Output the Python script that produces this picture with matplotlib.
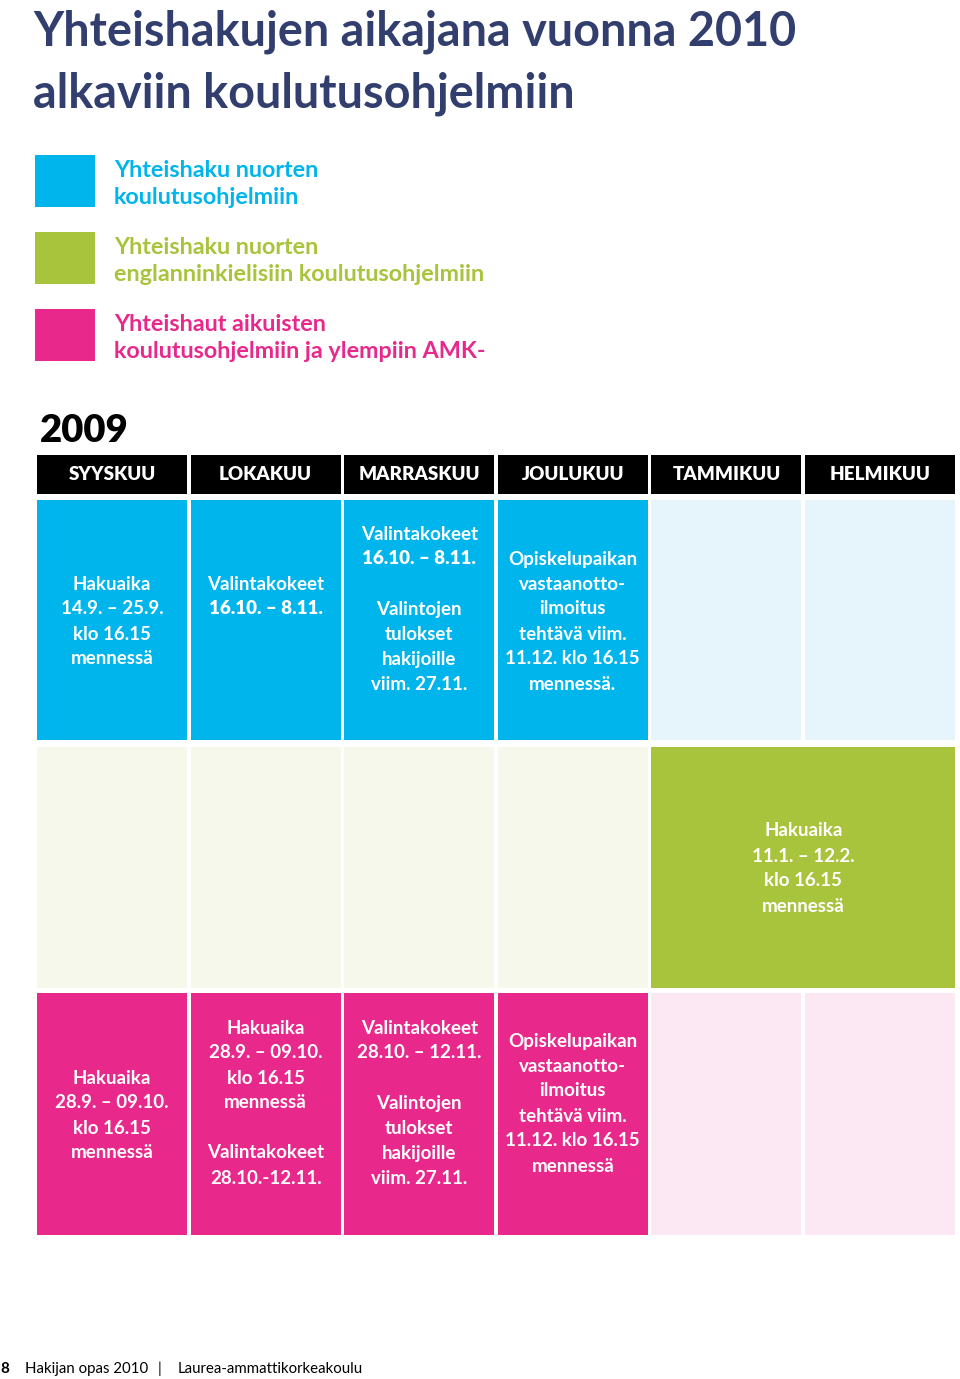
import matplotlib
matplotlib.use("Agg")
import matplotlib.pyplot as plt
from matplotlib.patches import Rectangle

plt.rcParams['font.family'] = ['Lato', 'DejaVu Sans']

# colours
NAVY = '#323f6e'
BLUE = '#00b5ec'
BLUE_L = '#e6f4fc'
GREEN = '#a8c33c'
GREEN_L = '#f5f8ea'
PINK = '#e8298b'
PINK_L = '#fce8f2'

title_lines = ['Yhteishakujen aikajana vuonna 2010', 'alkaviin koulutusohjelmiin']
legend_labels = [
    ['Yhteishaku nuorten', 'koulutusohjelmiin'],
    ['Yhteishaku nuorten', 'englanninkielisiin koulutusohjelmiin'],
    ['Yhteishaut aikuisten', 'koulutusohjelmiin ja ylempiin AMK-'],
]
legend_colors = [BLUE, GREEN, PINK]
year = '2009'
months = ['SYYSKUU', 'LOKAKUU', 'MARRASKUU', 'JOULUKUU', 'TAMMIKUU', 'HELMIKUU']

# each row: list of (first column, span, active?, lines); line = (text, heavy?)
blue_cells = [
    (0, 1, True, [('Hakuaika', 0), ('14.9. – 25.9.', 0), ('klo 16.15', 0), ('mennessä', 0)]),
    (1, 1, True, [('Valintakokeet', 0), ('16.10. – 8.11.', 1)]),
    (2, 1, True, [('Valintakokeet', 0), ('16.10. – 8.11.', 1), ('', 0), ('Valintojen', 0),
                  ('tulokset', 0), ('hakijoille', 0), ('viim. 27.11.', 0)]),
    (3, 1, True, [('Opiskelupaikan', 0), ('vastaanotto-', 0), ('ilmoitus', 0),
                  ('tehtävä viim.', 0), ('11.12. klo 16.15', 0), ('mennessä.', 0)]),
    (4, 1, False, []),
    (5, 1, False, []),
]
blue_first_line = [584, 584, 534, 559, 0, 0]

green_cells = [
    (0, 1, False, []),
    (1, 1, False, []),
    (2, 1, False, []),
    (3, 1, False, []),
    (4, 2, True, [('Hakuaika', 0), ('11.1. – 12.2.', 0), ('klo 16.15', 0), ('mennessä', 0)]),
]
green_first_line = [0, 0, 0, 0, 831]

pink_cells = [
    (0, 1, True, [('Hakuaika', 0), ('28.9. – 09.10.', 0), ('klo 16.15', 0), ('mennessä', 0)]),
    (1, 1, True, [('Hakuaika', 0), ('28.9. – 09.10.', 0), ('klo 16.15', 0), ('mennessä', 0),
                  ('', 0), ('Valintakokeet', 0), ('28.10.-12.11.', 0)]),
    (2, 1, True, [('Valintakokeet', 0), ('28.10. – 12.11.', 0), ('', 0), ('Valintojen', 0),
                  ('tulokset', 0), ('hakijoille', 0), ('viim. 27.11.', 0)]),
    (3, 1, True, [('Opiskelupaikan', 0), ('vastaanotto-', 0), ('ilmoitus', 0),
                  ('tehtävä viim.', 0), ('11.12. klo 16.15', 0), ('mennessä', 0)]),
    (4, 1, False, []),
    (5, 1, False, []),
]
pink_first_line = [1078, 1028, 1028, 1041, 0, 0]

footer_page = '8'
footer_items = ['Hakijan opas 2010', '|', 'Laurea-ammattikorkeakoulu']

fig = plt.figure(figsize=(9.6, 13.79), dpi=100)
ax = fig.add_axes([0, 0, 1, 1])
ax.set_xlim(0, 960)
ax.set_ylim(1379, 0)
ax.axis('off')

# title
for i, line in enumerate(title_lines):
    ax.text(33, 45 + i * 63, line, color=NAVY, fontsize=33.7, fontweight='bold', va='baseline')

# legend
for i, (lab, col) in enumerate(zip(legend_labels, legend_colors)):
    top = 155 + i * 77
    ax.add_patch(Rectangle((35, top), 60, 52, color=col, lw=0))
    for j, s in enumerate(lab):
        ax.text(114, top + 22 + j * 27, s, color=col, fontsize=16.8, fontweight='bold', va='baseline')

ax.text(40, 442, year, fontsize=27.5, fontweight='heavy', color='black', va='baseline')

col_x0 = 37
col_step = 153.6
col_w = 150

# month headers
for i, m in enumerate(months):
    x = col_x0 + i * col_step
    ax.add_patch(Rectangle((x, 455), col_w, 39, color='black', lw=0))
    ax.text(x + col_w / 2, 474.5, m, color='white', fontsize=13.5, fontweight='heavy',
            ha='center', va='center')


def draw_row(cells, first_lines, top, height, strong, light):
    for (c0, span, active, lines), y0 in zip(cells, first_lines):
        x = col_x0 + c0 * col_step
        w = col_w + (span - 1) * col_step
        ax.add_patch(Rectangle((x, top), w, height, color=strong if active else light, lw=0))
        for k, (s, b) in enumerate(lines):
            if not s:
                continue
            ax.text(x + w / 2, y0 + k * 25, s, color='white', fontsize=13.5,
                    fontweight='heavy' if b else 'bold', ha='center', va='center')


draw_row(blue_cells, blue_first_line, 500, 240, BLUE, BLUE_L)
draw_row(green_cells, green_first_line, 747, 241, GREEN, GREEN_L)
draw_row(pink_cells, pink_first_line, 993, 242, PINK, PINK_L)

# footer
ax.text(0, 1373, footer_page, fontsize=11, fontweight='bold', color='black', va='baseline')
for s, x in zip(footer_items, [25, 158, 178]):
    ax.text(x, 1373, s, fontsize=10.8, color='black', va='baseline')

fig.savefig('out.png', dpi=100, facecolor='white')
